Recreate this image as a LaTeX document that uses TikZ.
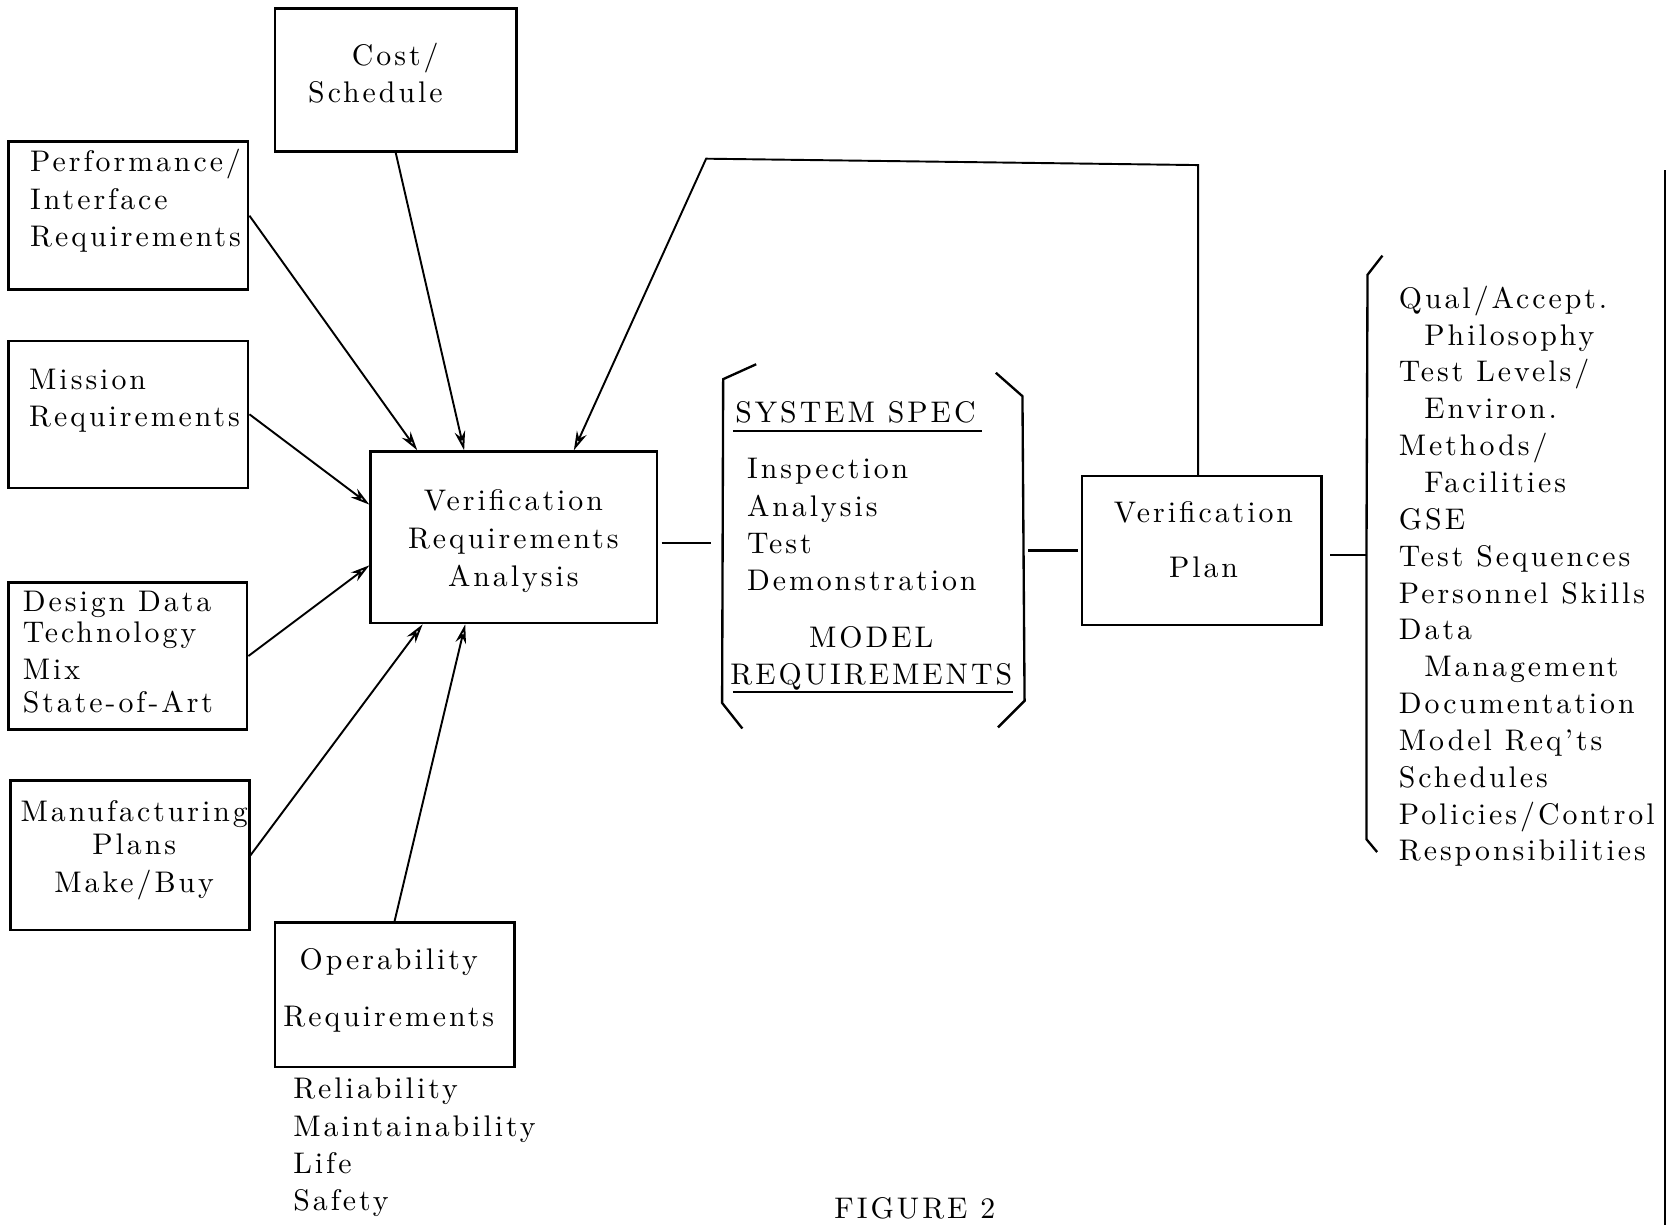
\documentclass[tikz,border=0pt]{standalone}
\usepackage{fontspec}
\setmainfont{lmroman10-regular}[Extension=.otf, LetterSpace=10]
\def\largeur{1568}
\def\hauteur{1150}
\usetikzlibrary{calc,arrows.meta}
\tikzset{
  boite/.style={draw, line width=1.2pt, inner sep=0pt},
  texte/.style={inner sep=0pt, font=\fontsize{14}{17.5}\selectfont},
  fleche/.style={line width=0.9pt, -{Stealth[open,length=9pt,width=5pt]}},
  trait/.style={line width=1.1pt}
}

\begin{document}
\begin{tikzpicture}[x=0.5pt, y=-0.5pt]
\useasboundingbox (0,0) rectangle (\largeur,\hauteur);

\node[boite, minimum width=113.5pt, minimum height=67pt] (cost) at (371.5,75) {};
\node[boite, minimum width=112.5pt, minimum height=69.5pt] (perf) at (120.5,202.5) {};
\node[boite, minimum width=112.5pt, minimum height=69pt] (mission) at (120.5,389) {};
\node[boite, minimum width=112pt, minimum height=69pt] (design) at (120,616) {};
\node[boite, minimum width=112pt, minimum height=70pt] (manu) at (122,803) {};
\node[boite, minimum width=112.5pt, minimum height=68pt] (oper) at (370.5,934) {};
\node[boite, minimum width=134.5pt, minimum height=80.5pt] (vra) at (482.5,504.5) {};
\node[boite, minimum width=112.5pt, minimum height=70pt] (plan) at (1128.5,517) {};
\node[minimum width=142pt, minimum height=150pt] (spec) at (820,510) {};

\node[texte, align=left, anchor=north west] (costtxt) at (289,40) {\hspace*{20.5pt}Cost/\\Schedule};
\node[texte, align=left, anchor=north west] (perftxt) at (28,140) {Performance/\\Interface\\Requirements};
\node[texte, align=left, anchor=north west] (missiontxt) at (27,346) {Mission\\Requirements};
\node[texte, align=left, anchor=north west] (designtxt) at (21,555) {Design Data\\[-3pt]Technology\\[-0.5pt]Mix\\[-2pt]State-of-Art};
\node[texte, align=center, anchor=north] (manutxt) at (126,751) {Manufacturing\\[-2pt]Plans\\[0.5pt]Make/Buy};
\node[texte, align=center, anchor=north] (opertxt) at (365,890) {Operability\\[9.5pt]Requirements};
\node[texte, align=left, anchor=north west] (relitxt) at (275,1012) {Reliability\\Maintainability\\Life\\Safety};
\node[texte, align=center, anchor=north] (vratxt) at (482,459) {Verification\\[0.5pt]Requirements\\[0.5pt]Analysis};
\node[texte, align=center, anchor=north] (plantxt) at (1130,470) {Verification\\[8.5pt]Plan};
\node[texte, anchor=north west] (spechead) at (690,377) {SYSTEM SPEC};
\node[texte, align=left, anchor=north west] (methods) at (701,430) {Inspection\\Analysis\\Test\\Demonstration};
\node[texte, align=center, anchor=north] (modelhead) at (818,588) {MODEL\\REQUIREMENTS};
\node[texte, font=\fontsize{14}{17.3}\selectfont, align=left, anchor=north west] (plist) at (1313,268) {Qual/Accept.\\
\hspace*{12pt}Philosophy\\
Test Levels/\\
\hspace*{12pt}Environ.\\
Methods/\\
\hspace*{12pt}Facilities\\
GSE\\
Test Sequences\\
Personnel Skills\\
Data\\
\hspace*{12pt}Management\\
Documentation\\
Model Req'ts\\
Schedules\\
Policies/Control\\
Responsibilities};
\node[texte, anchor=north west] (figtxt) at (783,1124) {FIGURE 2};

\draw[fleche] (cost.south) -- ($(vra.north west)+(89,0)$);
\draw[fleche] (perf.east) -- ($(vra.north west)+(45,0)$);
\draw[fleche] (mission.east) -- ($(vra.north west)+(0,51)$);
\draw[fleche] (design.east) -- ($(vra.north west)+(0,108)$);
\draw[fleche] (manu.east) -- ($(vra.south west)+(50,0)$);
\draw[fleche] (oper.north) -- ($(vra.south west)+(90,0)$);

\coordinate (bouclegauche) at (663,149);
\coordinate (boucledroite) at (1125,155);
\draw[fleche] (plan.north -| boucledroite) -- (boucledroite) -- (bouclegauche) -- ($(vra.north west)+(192,0)$);

\draw[trait] ($(vra.east |- spec.west)+(3,0)$) -- ($(spec.west)+(-10,0)$);
\draw[trait] ($(spec.east |- plan.west)+(3,0)$) -- ($(plan.west)+(-3,0)$);
\coordinate (accolade) at (1283,521);
\draw[trait] ($(plan.east |- accolade)+(7,0)$) -- (accolade);

\draw[trait] (710,342) -- (679,356) -- (678,660) -- (697,684);
\draw[trait] (935,350) -- (960,372) -- (962,658) -- (937,683);
\draw[line width=0.8pt] (688,405) -- (922,405);
\draw[line width=0.8pt] (688,650) -- (951,650);
\draw[trait] (1298,240) -- (1284,258) -- (accolade) -- (1283,788) -- (1293,800);
\draw[trait] (1563,160) -- (1563,\hauteur);
\end{tikzpicture}
\end{document}
